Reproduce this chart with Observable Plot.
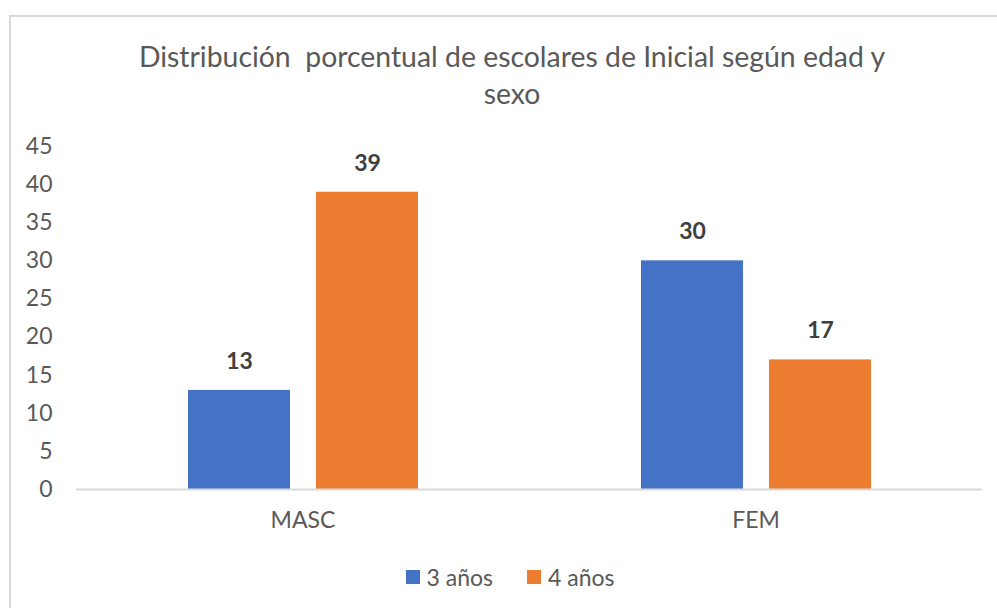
<!DOCTYPE html>
<html>
<head>
<meta charset="utf-8">
<script src="https://cdn.jsdelivr.net/npm/d3@7"></script>
<script src="https://cdn.jsdelivr.net/npm/@observablehq/plot@0.6"></script>
<style>
  html, body { margin: 0; padding: 0; background: #fff; }
  body { width: 997px; height: 608px; overflow: hidden; position: relative; font-family: Lato, "Open Sans", sans-serif; }
  #frame { position: absolute; left: 9px; top: 15px; width: 1100px; height: 700px; border: 2px solid #d9d9d9; box-sizing: border-box; }
  #title { position: absolute; left: 0; top: 38px; width: 1024px; text-align: center; color: #595959; font-size: 28.4px; line-height: 37px; }
  #chart { position: absolute; left: 0; top: 130px; }
  #legend { position: absolute; left: 0; top: 563px; width: 1020px; display: flex; justify-content: center; gap: 34px; color: #595959; font-size: 23px; line-height: 28px; }
  .item { display: flex; align-items: center; gap: 7px; }
  .swatch { width: 14px; height: 14px; display: inline-block; }
</style>
</head>
<body>
<div id="frame"></div>
<div id="title"></div>
<div id="chart"></div>
<div id="legend"></div>
<script>
const titleLines = ["Distribución  porcentual de escolares de Inicial según edad y", "sexo"];
const categories = ["MASC", "FEM"];
const series = ["3 años", "4 años"];
const values3 = [13, 30];
const values4 = [39, 17];
const colors = ["#4472C4", "#ED7D31"];
const yTicks = [0, 5, 10, 15, 20, 25, 30, 35, 40, 45];

const data = categories.flatMap((c, i) => [
  {cat: c, serie: series[0], value: values3[i]},
  {cat: c, serie: series[1], value: values4[i]}
]);

const t = document.getElementById("title");
titleLines.forEach(l => { const d = document.createElement("div"); d.textContent = l; d.style.whiteSpace = "pre"; t.appendChild(d); });

const chart = Plot.plot({
  width: 997,
  height: 420,
  marginLeft: 76,
  marginRight: 15,
  marginTop: 16,
  marginBottom: 61,
  style: {fontFamily: "Lato, 'Open Sans', sans-serif", fontSize: "23px", color: "#595959", background: "transparent"},
  fx: {domain: categories, padding: 0, label: null, axis: "bottom", tickSize: 0, tickPadding: 22},
  x: {domain: series, paddingInner: 0.206, paddingOuter: 0.864, axis: null},
  y: {domain: [0, 45], ticks: yTicks, tickSize: 0, tickPadding: 24, label: null},
  color: {domain: series, range: colors},
  marks: [
    Plot.barY(data, {fx: "cat", x: "serie", y: "value", fill: "serie"}),
    Plot.ruleY([0], {stroke: "#d9d9d9", strokeWidth: 2}),
    Plot.text(data, {fx: "cat", x: "serie", y: "value", text: d => String(d.value), dy: -29, fontWeight: "bold", fontSize: 23, fill: "#404040"})
  ]
});
document.getElementById("chart").appendChild(chart);

const lg = document.getElementById("legend");
series.forEach((s, i) => {
  const it = document.createElement("div"); it.className = "item";
  const sw = document.createElement("span"); sw.className = "swatch"; sw.style.background = colors[i];
  const tx = document.createElement("span"); tx.textContent = s;
  it.appendChild(sw); it.appendChild(tx); lg.appendChild(it);
});
</script>
</body>
</html>
